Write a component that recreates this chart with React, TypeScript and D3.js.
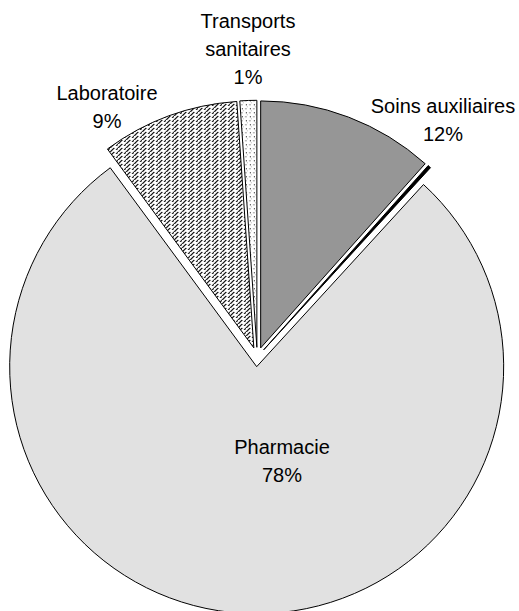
import React from "react";
import * as d3 from "d3";

const categories = ["Soins auxiliaires", "", "Pharmacie", "Laboratoire", "Transports sanitaires"];
const values = [11.6, 0.2, 78.1, 9.0, 1.1];
const labelLines = [["Soins auxiliaires", "12%"], [], ["Pharmacie", "78%"], ["Laboratoire", "9%"], ["Transports", "sanitaires", "1%"]];
const fills = ["#969696", "#000000", "#e1e1e1", "url(#dashUp)", "url(#dots)"];
// label block anchors (x centre, first baseline)
const labelAnchors = [[443, 113], [0, 0], [282, 454], [107, 100], [248, 28]];

const W = 519, H = 611;
const CX = 257.2, CY = 357, R = 247, EXPLODE = 9.7, LINE = 27.8;

export default function App() {
  const pie = d3.pie<number>().sort(null).value((d) => d).startAngle(0).endAngle(2 * Math.PI);
  const arcs = pie(values);
  const arc = d3.arc<d3.PieArcDatum<number>>().innerRadius(0).outerRadius(R);

  // dashed upward-diagonal tile: two lines, gaps staggered
  const dashPix: [number, number][] = [];
  for (let y = 0; y < 8; y++) {
    if (y < 6) dashPix.push([(3 - y + 8) % 8, y]);
    if (y < 2 || y > 3) dashPix.push([(7 - y + 8) % 8, y]);
  }

  return (
    <svg width={W} height={H} style={{ position: "absolute", left: 0, top: 0, background: "#fff" }}>
      <defs>
        <pattern id="dashUp" width={8} height={8} patternUnits="userSpaceOnUse">
          <rect width={8} height={8} fill="#fff" />
          {dashPix.map(([x, y], k) => (
            <rect key={k} x={x} y={y} width={1.6} height={1} fill="#000" />
          ))}
          <rect x={-1} y={7} width={1.6} height={1} fill="#000" />
        </pattern>
        <pattern id="dots" width={8} height={8} patternUnits="userSpaceOnUse">
          <rect width={8} height={8} fill="#fff" />
          <rect x={1} y={1} width={1} height={1} fill="#000" />
          <rect x={5} y={5} width={1} height={1} fill="#000" />
          <rect x={4} y={1} width={2} height={1} fill="#999" />
          <rect x={0} y={5} width={2} height={1} fill="#999" />
          <rect x={2} y={3} width={1} height={1} fill="#bbb" />
          <rect x={6} y={7} width={1} height={1} fill="#bbb" />
        </pattern>
      </defs>
      {arcs.map((a, i) => {
        const mid = (a.startAngle + a.endAngle) / 2;
        const dx = Math.sin(mid) * EXPLODE;
        const dy = -Math.cos(mid) * EXPLODE;
        return (
          <path
            key={i}
            d={arc(a) || ""}
            transform={`translate(${CX + dx},${CY + dy})`}
            fill={fills[i]}
            stroke="#000"
            strokeWidth={1}
          />
        );
      })}
      {labelLines.map((lines, i) =>
        lines.length ? (
          <text
            key={i}
            x={labelAnchors[i][0]}
            y={labelAnchors[i][1]}
            textAnchor="middle"
            fontFamily="'Liberation Sans', Arial, sans-serif"
            fontSize={20}
            fill="#000"
          >
            {lines.map((l, j) => (
              <tspan key={j} x={labelAnchors[i][0]} y={labelAnchors[i][1] + j * LINE}>
                {l}
              </tspan>
            ))}
          </text>
        ) : null
      )}
    </svg>
  );
}
